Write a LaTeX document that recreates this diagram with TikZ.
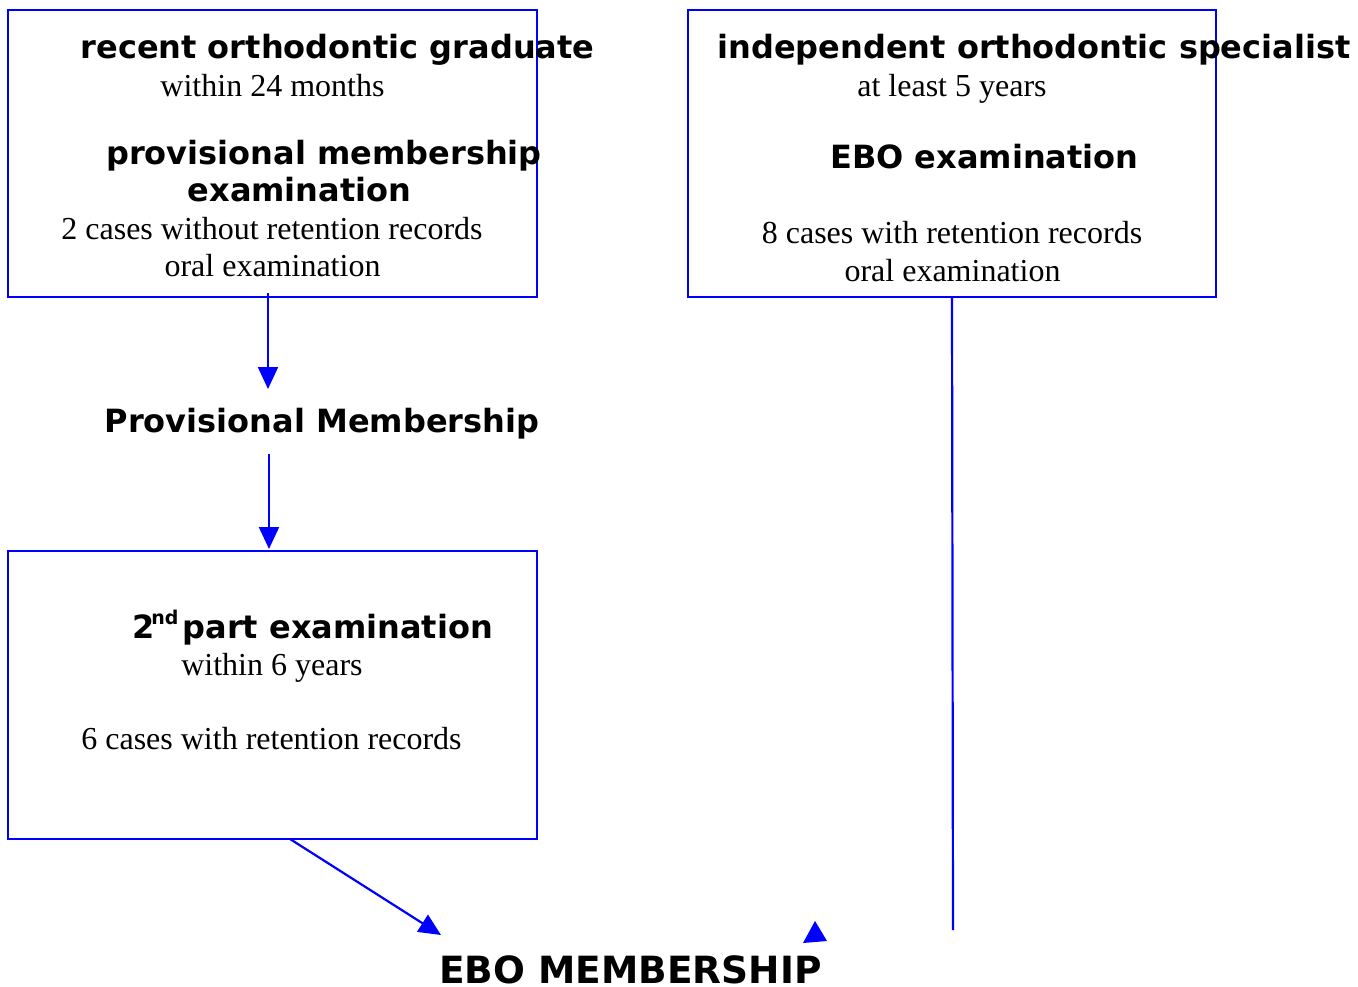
\documentclass[tikz,border=0pt]{standalone}
\usepackage{fontspec}
\setmainfont{Liberation Serif}
\newfontfamily\dejavu{DejaVu Sans}
\usetikzlibrary{arrows.meta}
\definecolor{lineblue}{RGB}{0,0,255}
\tikzset{
  boxframe/.style={draw=lineblue, line width=2.2pt},
  conn/.style={draw=lineblue, line width=2.2pt},
  arr/.style={conn, -{Triangle[length=22pt,width=20pt]}, lineblue},
  boldtxt/.style={inner sep=0pt, anchor=base, font=\fontsize{32}{38}\selectfont\dejavu\bfseries},
  bigtxt/.style={inner sep=0pt, anchor=base, font=\fontsize{37.5}{44}\selectfont\dejavu\bfseries},
  plaintxt/.style={inner sep=0pt, anchor=base, font=\fontsize{32}{38}\selectfont},
}
\begin{document}
\begin{tikzpicture}[x=1pt, y=-1pt]
\useasboundingbox (0,0) rectangle (1358,987);
% left top box
\draw[boxframe] (8,10) rectangle (537,297);
\coordinate (lbS) at (268,293);
\node[boldtxt] (l1) at (337.5,58.5) {recent orthodontic graduate};
\node[plaintxt] (l2) at (272.5,96.5) {within 24 months};
\node[boldtxt] (l3) at (324,164.5) {provisional membership};
\node[boldtxt] (l4) at (299.5,201.5) {examination};
\node[plaintxt] (l5) at (272,239.5) {2 cases without retention records};
\node[plaintxt] (l6) at (272.5,276.5) {oral examination};
% provisional membership
\node[boldtxt] (pm) at (322,432.5) {Provisional Membership};
\coordinate (pmN) at (268,389);
\coordinate (pmS) at (269,454);
% second box
\draw[boxframe] (8,551) rectangle (537,839);
\coordinate (sbN) at (269,549);
\coordinate (sbS) at (290,839);
\node[boldtxt, anchor=base west] (s1) at (132,638) {2\hspace{-3pt}\raisebox{0.42em}{\fontsize{19}{23}\selectfont nd}\hspace{4pt}part examination};
\node[plaintxt] (s2) at (272,675) {within 6 years};
\node[plaintxt] (s3) at (271.5,749) {6 cases with retention records};
% right box
\draw[boxframe] (688,10) rectangle (1216,297);
\coordinate (rbS) at (952,297);
\node[boldtxt] (r1) at (1034,58.5) {independent orthodontic specialist};
\node[plaintxt] (r2) at (952,96.5) {at least 5 years};
\node[boldtxt] (r3) at (984.5,169) {EBO examination};
\node[plaintxt] (r4) at (952,244) {8 cases with retention records};
\node[plaintxt] (r5) at (952.5,281) {oral examination};
% EBO membership
\node[bigtxt] (ebo) at (630.5,983) {EBO MEMBERSHIP};
\coordinate (eboW) at (441,935);
\coordinate (rEnd) at (953,930);
% connectors
\draw[arr] (lbS) -- (pmN);
\draw[arr] (pmS) -- (sbN);
\draw[arr] (sbS) -- (eboW);
\draw[conn] (rbS) -- (rEnd);
% stray arrowhead
\coordinate (t1) at (815,921);
\coordinate (t2) at (803,943);
\coordinate (t3) at (827,941);
\fill[lineblue] (t1) -- (t2) -- (t3) -- cycle;
\end{tikzpicture}
\end{document}
